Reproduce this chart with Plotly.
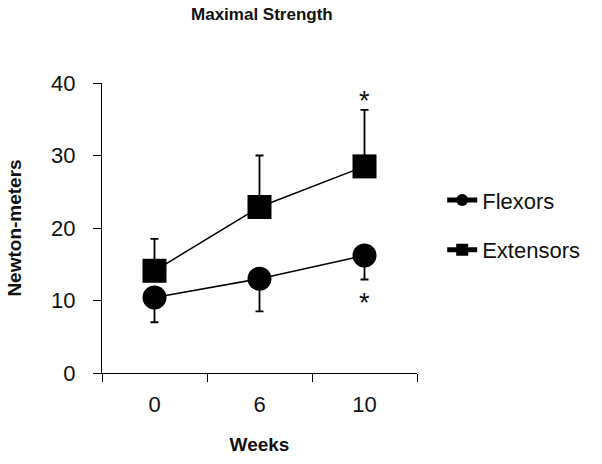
import plotly.graph_objects as go

weeks = ["0", "6", "10"]
flexors = [10.4, 13.0, 16.2]
flexors_err_down = [3.4, 4.5, 3.3]
extensors = [14.1, 22.9, 28.5]
extensors_err_up = [4.4, 7.1, 7.8]
y_ticks = [0, 10, 20, 30, 40]
sig_label = "*"

FONT = "Liberation Sans, Arial, sans-serif"
TXT = "#111111"

fig = go.Figure()
fig.add_trace(go.Scatter(
    x=weeks, y=flexors, name="Flexors", mode="lines+markers", legendgroup="f",
    line=dict(color="black", width=1.5),
    marker=dict(symbol="circle", size=24, color="black"),
    error_y=dict(type="data", symmetric=False, array=[0, 0, 0],
                 arrayminus=flexors_err_down, color="black", thickness=1.8, width=4),
))
fig.add_trace(go.Scatter(
    x=weeks, y=extensors, name="Extensors", mode="lines+markers", legendgroup="e",
    line=dict(color="black", width=1.5),
    marker=dict(symbol="square", size=24, color="black"),
    error_y=dict(type="data", symmetric=False, array=extensors_err_up,
                 arrayminus=[0, 0, 0], color="black", thickness=1.8, width=4),
))

# significance asterisks at week 10 (category index on the x axis)
sig_idx = weeks.index("10")
fig.add_annotation(x=sig_idx, y=extensors[sig_idx] + extensors_err_up[sig_idx],
                   text=sig_label, showarrow=False, yanchor="middle", yshift=9,
                   font=dict(family=FONT, size=27, color=TXT))
fig.add_annotation(x=sig_idx, y=flexors[sig_idx] - flexors_err_down[sig_idx],
                   text=sig_label, showarrow=False, yanchor="middle", yshift=-24,
                   font=dict(family=FONT, size=27, color=TXT))

fig.update_layout(
    width=602, height=464,
    margin=dict(l=102, r=185, t=83, b=89),
    paper_bgcolor="white", plot_bgcolor="white",
    title=dict(text="<b>Maximal Strength</b>", x=0.435, xanchor="center",
               xref="container", yref="container",
               y=1 - 14 / 464, yanchor="middle",
               font=dict(family=FONT, size=17, color=TXT)),
    font=dict(family=FONT, color=TXT),
    showlegend=True,
    legend=dict(x=1.08, y=0.668, xanchor="left", yanchor="top",
                font=dict(family=FONT, size=22, color=TXT),
                itemsizing="constant", tracegroupgap=18,
                bgcolor="rgba(0,0,0,0)"),
    xaxis=dict(type="category", range=[-0.5, 2.5], showline=True,
               linecolor="black", linewidth=1, ticks="outside",
               tickson="boundaries", ticklen=8, tickcolor="black",
               showgrid=False, zeroline=False, ticklabelstandoff=12,
               tickfont=dict(family=FONT, size=22, color=TXT),
               title=dict(text="<b>Weeks</b>", standoff=21,
                          font=dict(family=FONT, size=19, color=TXT))),
    yaxis=dict(range=[0, 40], tickvals=y_ticks, showline=True,
               linecolor="black", linewidth=1, ticks="outside", ticklen=8,
               tickcolor="black", showgrid=False, zeroline=False,
               ticklabelstandoff=13,
               tickfont=dict(family=FONT, size=22, color=TXT),
               title=dict(text="<b>Newton-meters</b>", standoff=24,
                          font=dict(family=FONT, size=19, color=TXT))),
)

fig.write_html("out.html", config={"displayModeBar": False},
               post_script="document.body.style.margin='0';")
